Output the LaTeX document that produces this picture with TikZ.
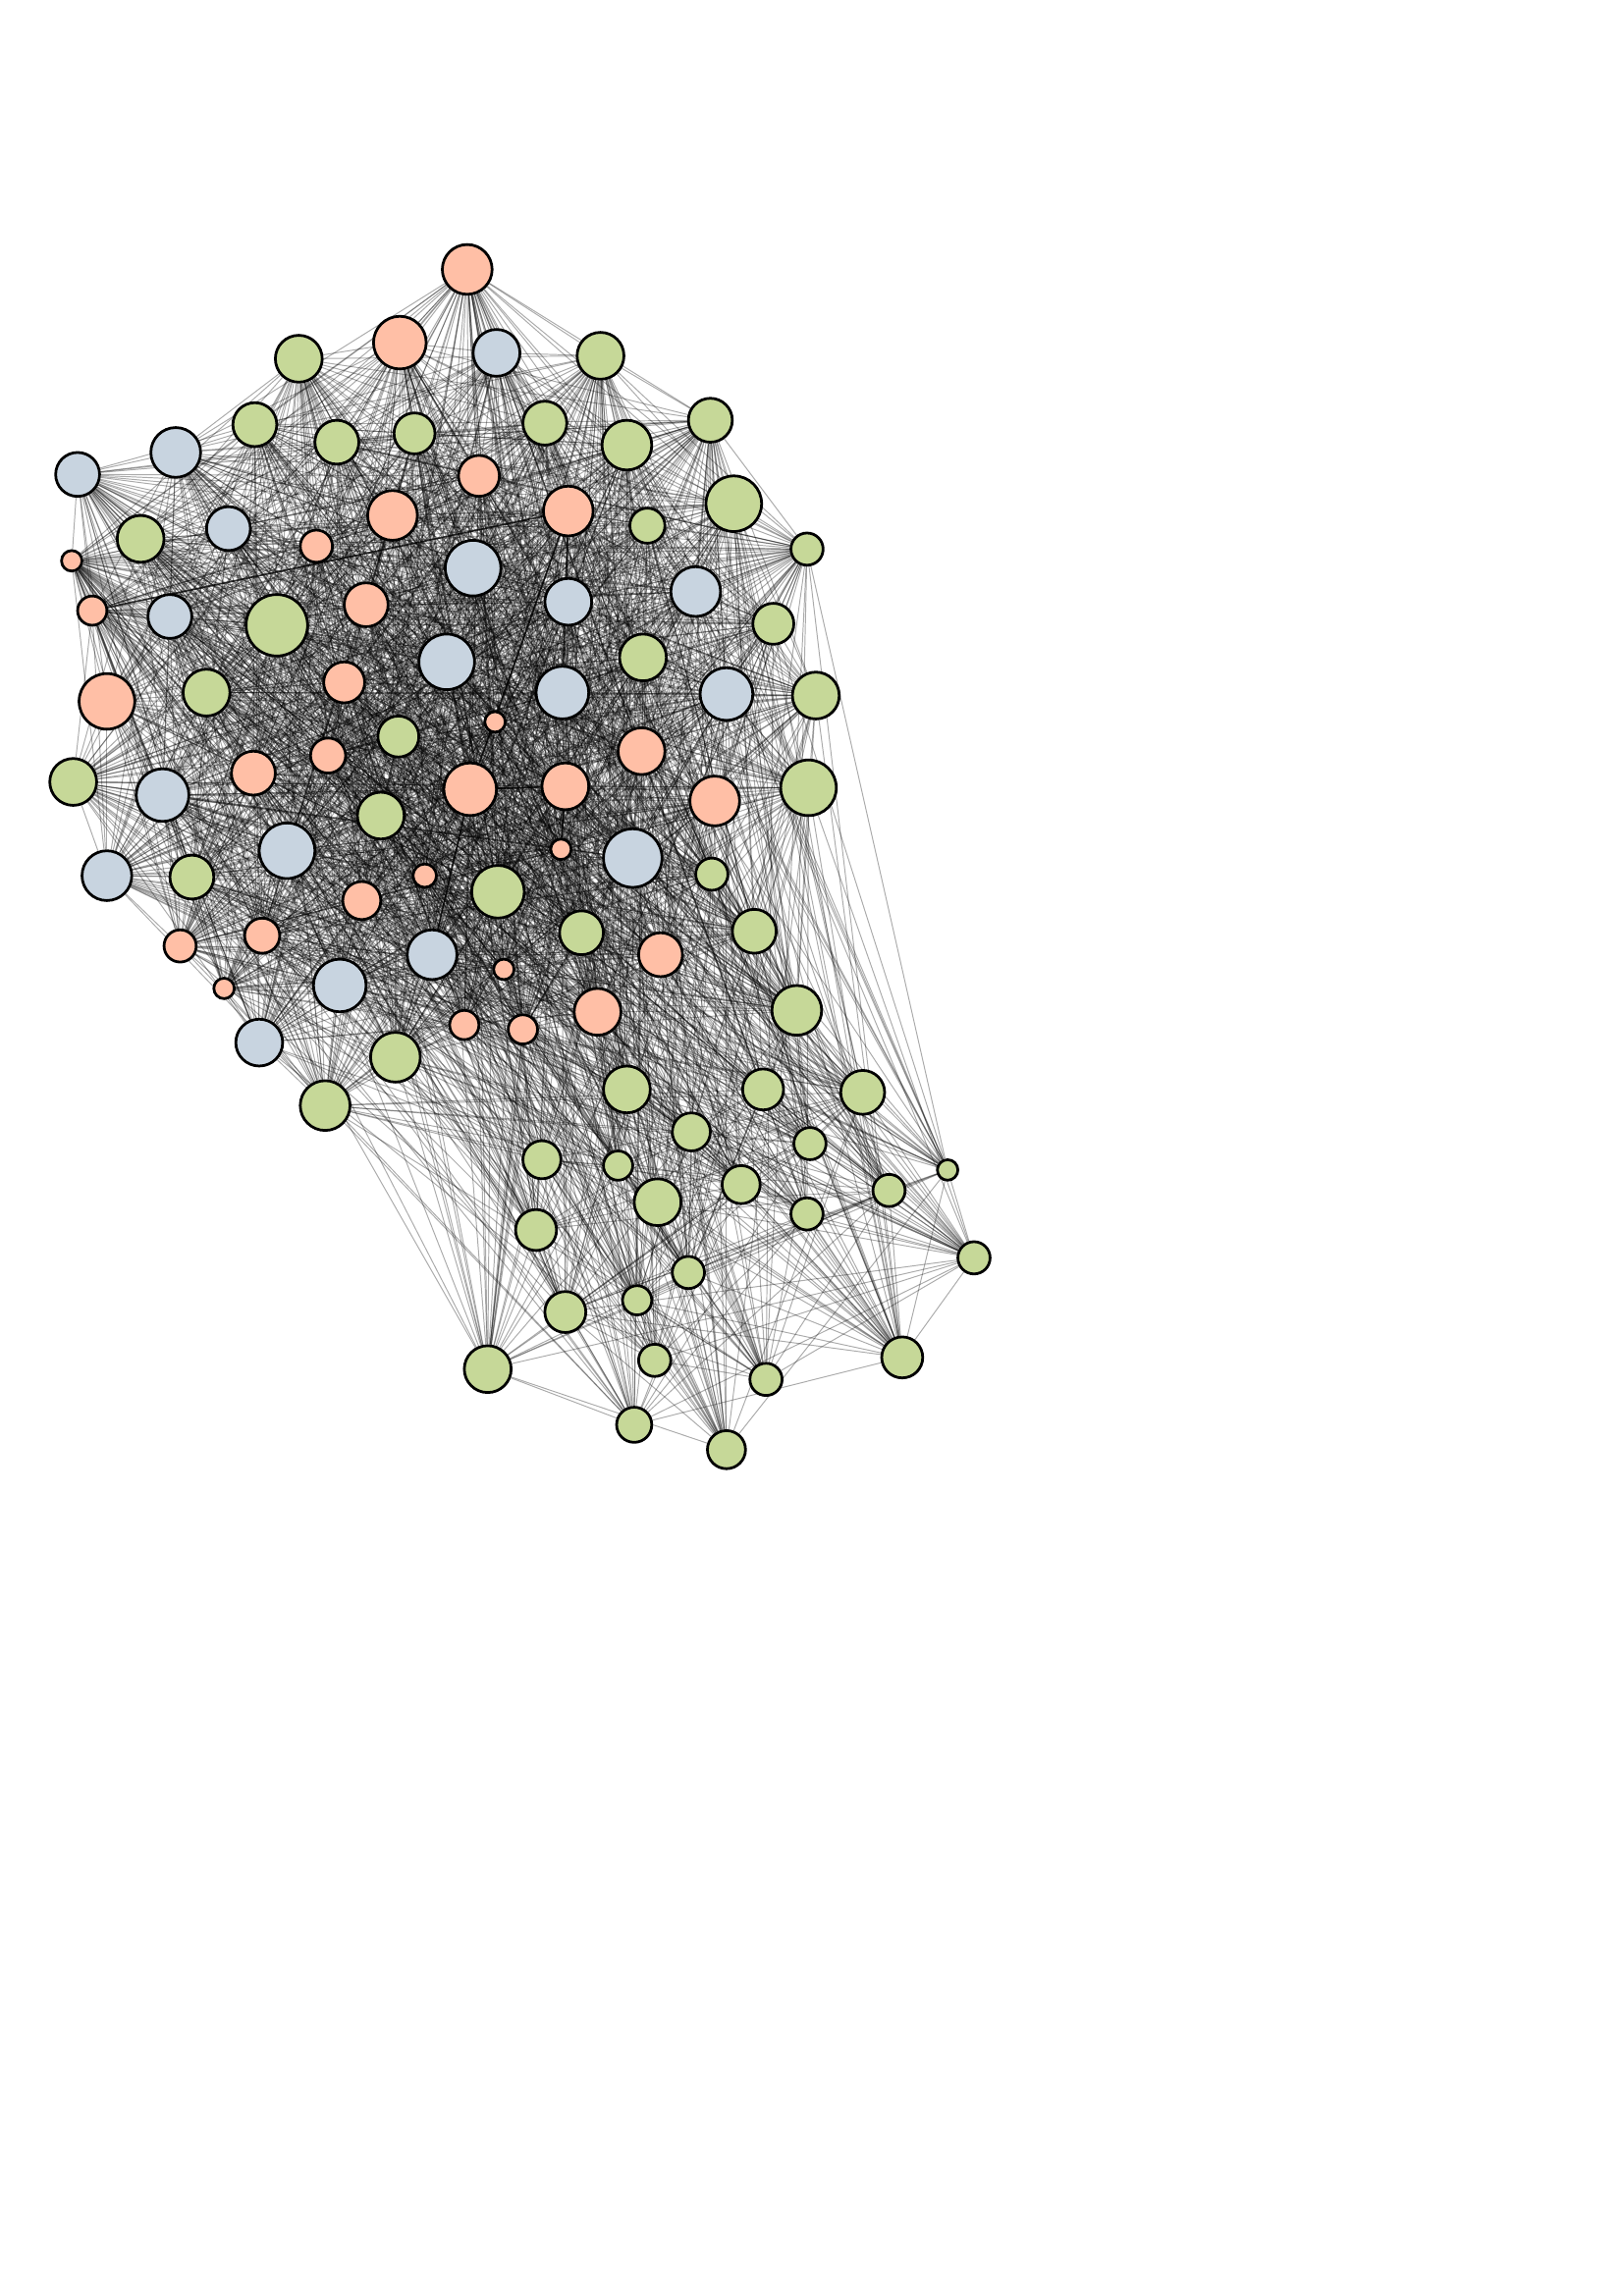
\documentclass[tikz,border=0pt]{standalone}
\usetikzlibrary{backgrounds}

\definecolor{salm}{RGB}{255,191,166}
\definecolor{slate}{RGB}{200,212,224}
\definecolor{sage}{RGB}{198,216,152}

\pgfdeclarelayer{edges}
\pgfsetlayers{edges,main}

\tikzset{
    vertex/.style = {circle, draw = black, line width = 1pt, inner sep = 0pt},
    link/.style   = {black, opacity = 0.33, line width = 0.35pt},
    heavy/.style  = {black, opacity = 0.8, line width = 0.6pt}
}

\begin{document}
\begin{tikzpicture}[x = 0.018953cm, y = -0.018953cm]

    \useasboundingbox (0,0) rectangle (1108,1568);

    %\draw[help lines, opacity = 0.1] (0,0) grid[step = 100] (1108,1568);

    \foreach \i/\x/\y/\r/\c in {
        1/319/184/17/salm, 2/273/234/18/salm, 3/339/241/16/slate, 4/204/245/16/sage,
        5/410/243/16/sage, 6/485/287/15/sage, 7/120/309/17/slate, 8/174/290/15/sage,
        9/230/302/15/sage, 10/283/296/14/sage, 11/372/289/15/sage, 12/428/304/17/sage,
        13/53/324/15/slate, 14/327/325/14/salm, 15/501/344/19/sage, 16/268/352/17/salm,
        17/388/349/17/salm, 18/442/359/12/sage, 19/96/368/16/sage, 20/156/361/15/slate,
        21/216/373/11/salm, 22/49/383/7/salm, 23/551/375/11/sage, 24/323/388/19/slate,
        25/63/417/10/salm, 26/116/421/15/slate, 27/189/427/21/sage, 28/250/413/15/salm,
        29/388/411/16/slate, 30/475/404/17/slate, 31/528/426/14/sage, 32/305/452/19/slate,
        33/439/449/16/sage, 34/235/466/14/salm, 35/141/473/16/sage, 36/73/479/19/salm,
        37/384/473/18/slate, 38/496/474/18/slate, 39/557/475/16/sage, 40/272/503/14/sage,
        41/338/493/7/salm, 42/438/513/16/salm, 43/50/534/16/sage, 44/224/516/12/salm,
        45/173/528/15/salm, 46/111/543/18/slate, 47/321/539/18/salm, 48/386/537/16/salm,
        49/552/538/19/sage, 50/488/547/17/salm, 51/260/557/16/sage, 52/196/581/19/slate,
        53/432/586/20/slate, 54/383/580/7/salm, 55/290/598/8/salm, 56/73/598/17/slate,
        57/131/599/15/sage, 58/486/597/11/sage, 59/340/609/18/sage, 60/247/615/13/salm,
        61/179/639/12/salm, 62/123/646/11/salm, 63/397/637/15/sage, 64/515/636/15/sage,
        65/295/652/17/slate, 66/451/652/15/salm, 67/344/662/7/salm, 68/232/673/18/slate,
        69/153/675/7/salm, 70/408/691/16/salm, 71/544/690/17/sage, 72/317/700/10/salm,
        73/357/703/10/salm, 74/270/722/17/sage, 75/177/712/16/slate, 76/222/755/17/sage,
        77/428/744/16/sage, 78/521/744/14/sage, 79/589/746/15/sage, 80/472/773/13/sage,
        81/553/781/11/sage, 82/370/792/13/sage, 83/422/796/10/sage, 84/449/821/16/sage,
        85/506/809/13/sage, 86/607/813/11/sage, 87/647/799/7/sage, 88/366/840/14/sage,
        89/551/829/11/sage, 90/470/869/11/sage, 91/665/859/11/sage, 92/435/888/10/sage,
        93/386/896/14/sage, 94/616/927/14/sage, 95/333/935/16/sage, 96/447/929/11/sage,
        97/523/942/11/sage, 98/433/973/12/sage, 99/496/990/13/sage}
    {
        \pgfmathsetmacro\d{0.037906*\r}
        \node (n\i) at (\x,\y) [vertex, fill = \c, minimum size = \d cm] {};
    }

    \begin{pgfonlayer}{edges}
        \pgfmathsetseed{2024}
        \foreach \i in {1,...,98}{
            \pgfmathtruncatemacro\k{\i+1}
            \foreach \j in {\k,...,99}{
                \pgfmathsetmacro\p{(\i<77 && \j<77) ? 0.6 : ((\i>76) ? 0.42 : 0.28)}
                \pgfmathsetmacro\u{rnd}
                \ifdim\u pt<\p pt
                    \draw[link] (n\i) -- (n\j);
                \fi
            }
        }

        \draw[heavy] (n17) -- (n47);
        \draw[heavy] (n17) -- (n25);
        \draw[heavy] (n47) -- (n48);
        \draw[heavy] (n48) -- (n54);
        \draw[heavy] (n17) -- (n37);
        \draw[heavy] (n47) -- (n65);
    \end{pgfonlayer}

\end{tikzpicture}
\end{document}
